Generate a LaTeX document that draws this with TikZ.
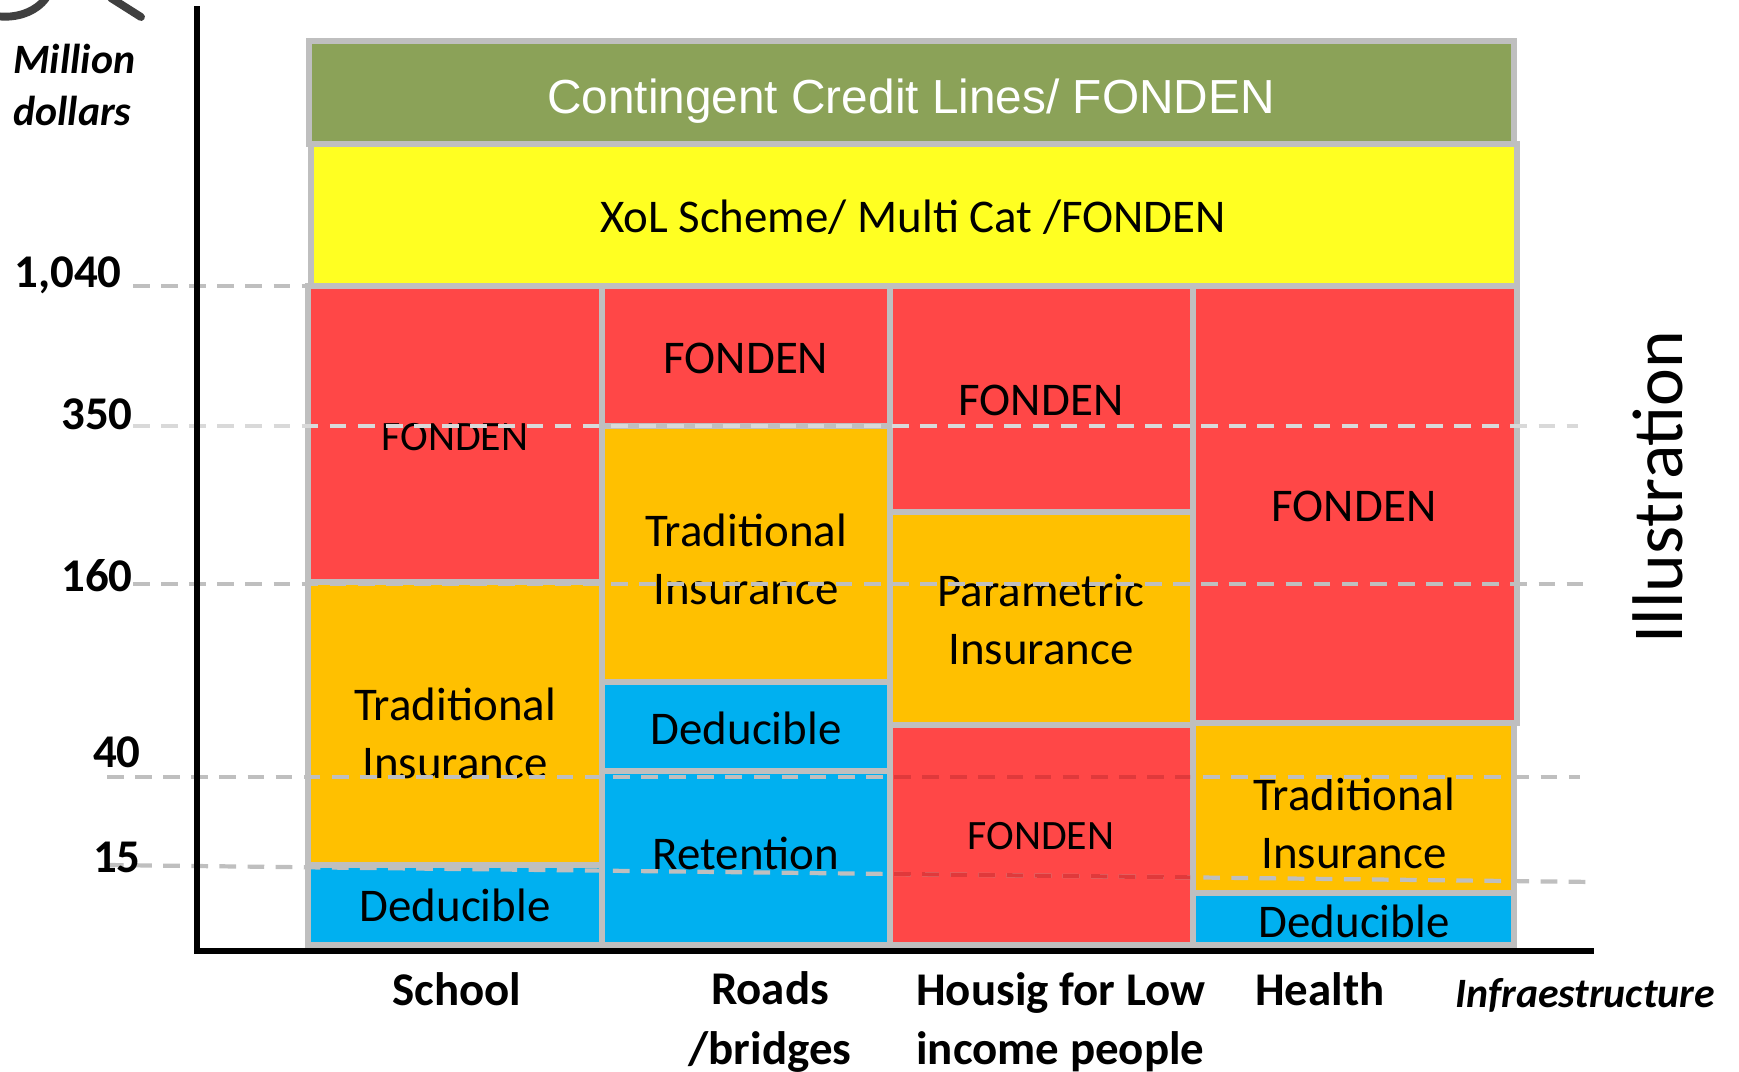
\documentclass[tikz,border=0pt]{standalone}
\usepackage{fontspec}
\setmainfont{Carlito}
\newfontfamily\arialfont{Liberation Sans}

\definecolor{cellgray}{HTML}{BFBFBF}
\definecolor{guidelt}{HTML}{D9D9D9}
\definecolor{ccgreen}{HTML}{8BA258}
\definecolor{xolyellow}{HTML}{FFFF22}
\definecolor{fondred}{HTML}{FF4747}
\definecolor{insorange}{HTML}{FFC000}
\definecolor{dedblue}{HTML}{00B0F0}
\definecolor{dashred}{HTML}{E0393B}
\definecolor{logogray}{HTML}{404040}

\tikzset{
  cell/.style={draw=cellgray, line width=3.4pt},
  guide/.style={draw=cellgray, line width=2.4pt, dash pattern=on 9.5pt off 6.5pt},
  axis/.style={draw=black, line width=3.4pt},
  celltext/.style={font=\fontsize{26.7}{33}\selectfont, align=center},
  smallcell/.style={font=\fontsize{23.8}{29}\selectfont},
  tick/.style={font=\bfseries\fontsize{26.7}{33}\selectfont, anchor=base east, inner sep=0pt},
  sector/.style={font=\bfseries\fontsize{26.7}{33.6}\selectfont},
  unitlabel/.style={font=\bfseries\itshape\fontsize{23.8}{29.6}\selectfont},
}

\begin{document}
\begin{tikzpicture}[x=0.02cm, y=-0.02cm]
\useasboundingbox (0,0) rectangle (1739,1072);

% corner of the logo
\draw[logogray, line width=4.5pt, line cap=round] (-4,16) .. controls (16,19) and (36,12) .. (46,-2);
\draw[logogray, line width=4.5pt, line cap=round] (111,-2) -- (141,17);

% top layers
\draw[cell, fill=ccgreen] (309,41) rectangle (1514,144);
\draw[cell, fill=xolyellow] (311,144) rectangle (1517,286);
\node[font=\arialfont\fontsize{27.2}{33}\selectfont, text=white, anchor=base] (ccl) at (911,113) {Contingent Credit Lines/ FONDEN};
\node[celltext, anchor=base] (xol) at (913,232) {XoL Scheme/ Multi Cat /FONDEN};

% School
\draw[cell, fill=fondred] (308,286) rectangle (602,582);
\draw[cell, fill=insorange] (308,582) rectangle (602,865);
\draw[cell, fill=dedblue] (308,865) rectangle (602,945);
\node[smallcell, anchor=base] (fonden-school) at (455,450) {FONDEN};
\node[celltext] (trad-school) at (455,733) {Traditional\\Insurance};
\node[celltext, anchor=base] (ded-school) at (455,921) {Deducible};

% Roads / bridges
\draw[cell, fill=fondred] (602,286) rectangle (890,426);
\draw[cell, fill=insorange] (602,426) rectangle (890,682);
\draw[cell, fill=dedblue] (602,682) rectangle (890,771);
\draw[cell, fill=dedblue] (602,771) rectangle (890,945);
\node[celltext, anchor=base] (fonden-roads) at (746,373) {FONDEN};
\node[celltext] (trad-roads) at (746,559) {Traditional\\Insurance};
\node[celltext, anchor=base] (ded-roads) at (746,744) {Deducible};
\node[celltext, anchor=base] (ret-roads) at (746,869) {Retention};

% Housing
\draw[cell, fill=fondred] (890,286) rectangle (1193,512);
\draw[cell, fill=insorange] (890,512) rectangle (1193,725);
\draw[cell, fill=fondred] (890,725) rectangle (1193,945);
\node[celltext, anchor=base] (fonden-house) at (1041,415) {FONDEN};
\node[celltext] (param-house) at (1041,620) {Parametric\\Insurance};
\node[smallcell, anchor=base] (fonden-house2) at (1041,849) {FONDEN};

% Health
\draw[cell, fill=fondred] (1193,286) rectangle (1517,723);
\draw[cell, fill=insorange] (1193,723) rectangle (1514,893);
\draw[cell, fill=dedblue] (1193,893) rectangle (1514,945);
\node[celltext, anchor=base] (fonden-health) at (1354,521) {FONDEN};
\node[celltext] (trad-health) at (1354,823) {Traditional\\Insurance};
\node[celltext, anchor=base] (ded-health) at (1354,937) {Deducible};

% level lines
\draw[guide] (133,286) -- (308,286);
\draw[guide, draw=guidelt] (133,426) -- (1578,426);
\draw[guide] (133,584) -- (1593,584);
\draw[guide] (107,777) -- (1580,777);
\draw[guide] (107,865) -- (1594,882);
\begin{scope}
  \clip (893,728) rectangle (1190,942);
  \draw[guide, draw=dashred] (107,777) -- (1580,777);
  \draw[guide, draw=dashred] (107,865) -- (1594,882);
\end{scope}

% axes
\draw[axis] (197,6) -- (197,951);
\draw[axis] (194,951) -- (1594,951);

\node[tick] (t1040) at (122,287) {1,040};
\node[tick] (t350) at (133,429) {350};
\node[tick] (t160) at (133,591) {160};
\node[tick] (t40) at (141,767) {40};
\node[tick] (t15) at (141,872) {15};

\node[unitlabel, anchor=west, align=left, inner sep=0pt] (units) at (13,85) {Million\\dollars};
\node[unitlabel, anchor=base] (infra) at (1585,1007) {Infraestructure};
\node[font=\fontsize{40.8}{48}\selectfont, rotate=90] (illus) at (1658,487) {Illustration};

% sectors
\node[sector, anchor=base] (school) at (457,1005) {School};
\node[sector, align=center] (roads) at (770,1022) {Roads\\/bridges};
\node[sector, align=left, anchor=west, inner sep=0pt] (housing) at (916,1022) {Housig for Low\\income people};
\node[sector, anchor=base] (health) at (1320,1005) {Health};
\end{tikzpicture}
\end{document}
